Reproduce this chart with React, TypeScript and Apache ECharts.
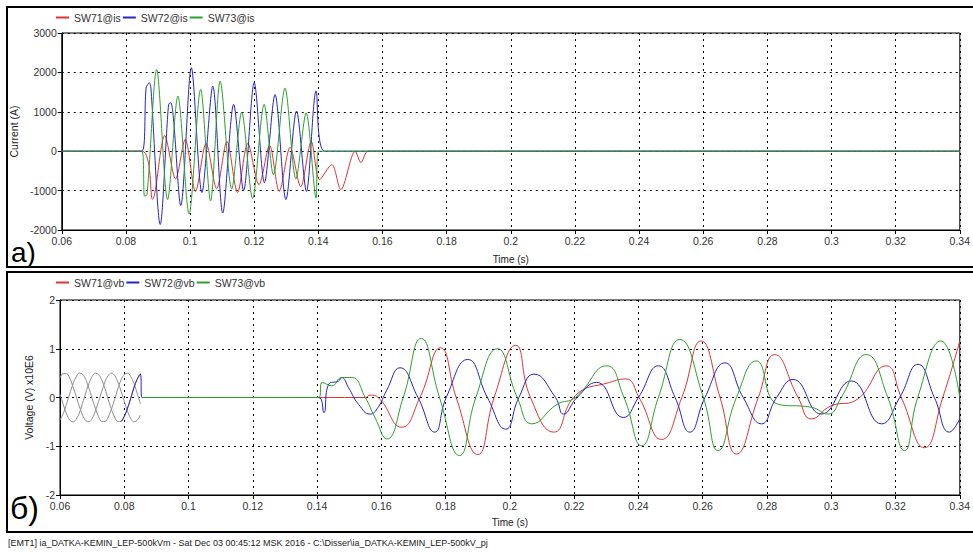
import React, { useEffect, useRef } from 'react';
import * as echarts from 'echarts';

// ---------- data ----------
const xMin = 0.06;
const xMax = 0.34;
const xStep = 0.02;

const currentNames = ['SW71@is', 'SW72@is', 'SW73@is'];
const voltageNames = ['SW71@vb', 'SW72@vb', 'SW73@vb'];

// top panel: currents (A), [time s, value]
const isRed: [number, number][] = [
  [0.06, 0], [0.085, 0], [0.0883, -1220], [0.0921, 400], [0.0955, -700], [0.0985, 300],
  [0.1017, -1020], [0.105, 200], [0.1083, -950], [0.1115, 250], [0.1148, -1050], [0.118, 200],
  [0.1215, -850], [0.1248, 150], [0.1278, -1020], [0.1312, 100], [0.1345, -900], [0.1378, 250],
  [0.1404, -720], [0.1442, -340], [0.147, -975], [0.1515, 0], [0.1533, -290], [0.1556, 0], [0.34, 0],
];
const isBlue: [number, number][] = [
  [0.06, 0], [0.085, 0], [0.0863, 1600], [0.0873, 1740], [0.0878, 1600], [0.0907, -1860],
  [0.0933, 1190], [0.094, 1230], [0.0971, -1380], [0.1004, 2120], [0.1037, -1050], [0.1071, 1650],
  [0.1102, -1570], [0.1136, 1190], [0.1167, -1000], [0.12, 1740], [0.1232, -800], [0.1265, 1440],
  [0.1299, -1230], [0.1332, 1020], [0.1363, -1020], [0.1393, 1530], [0.1419, 0], [0.34, 0],
];
const isGreen: [number, number][] = [
  [0.06, 0], [0.085, 0], [0.0858, -1140], [0.0866, -1100], [0.0896, 2070], [0.093, -1230],
  [0.0962, 1400], [0.0997, -1590], [0.1033, 1570], [0.1064, -1260], [0.1094, 1780], [0.113, -960],
  [0.1161, 990], [0.1195, -1200], [0.1231, 1190], [0.126, -600], [0.1296, 1600], [0.133, -700],
  [0.1362, 970], [0.1393, -1190], [0.14, 0], [0.34, 0],
];

// bottom panel: voltages (x10E6 V)
const vbRed: [number, number][] = [
  [0.0855, 0], [0.155, 0], [0.1565, 0.05], [0.159, 0], [0.1663, -0.61], [0.172, 0], [0.1784, 1.02],
  [0.1833, 0], [0.19, -1.17], [0.1951, 0], [0.2018, 1.07], [0.2064, 0], [0.2137, -0.71], [0.2205, 0.05],
  [0.231, 0.31], [0.2361, 0.38], [0.2402, 0], [0.2472, -0.86], [0.2535, 0], [0.2595, 1.16], [0.2654, 0],
  [0.2705, -1.16], [0.2773, 0], [0.2824, 0.88], [0.2897, 0], [0.2938, -0.44], [0.3, -0.17], [0.3073, -0.07],
  [0.3171, 0.65], [0.3218, 0], [0.329, -1.03], [0.3347, 0], [0.34, 1.16],
];
const vbBlue: [number, number][] = [
  [0.079, -0.49], [0.08, -0.39], [0.081, -0.22], [0.082, -0.02], [0.083, 0.2], [0.084, 0.37],
  [0.085, 0.48], [0.0855, 0], [0.1405, 0], [0.1421, -0.31], [0.1436, 0.27], [0.1467, 0.34],
  [0.1477, 0.41], [0.1498, 0.2], [0.1529, -0.14], [0.1565, -0.34], [0.159, -0.2], [0.1616, 0.14],
  [0.1658, 0.61], [0.1714, 0], [0.1766, -0.71], [0.1802, 0], [0.1869, 0.78], [0.193, 0], [0.1987, -0.65],
  [0.2028, 0], [0.2075, 0.48], [0.2142, 0], [0.2167, -0.34], [0.2209, 0], [0.227, 0.31], [0.2353, -0.41],
  [0.24, 0], [0.2462, 0.65], [0.2514, 0], [0.256, -0.71], [0.2607, 0], [0.2669, 0.71], [0.2726, 0],
  [0.2783, -0.54], [0.283, 0], [0.2881, 0.37], [0.2969, -0.34], [0.3062, 0.34], [0.3156, -0.54],
  [0.3213, 0], [0.327, 0.68], [0.3321, 0], [0.3368, -0.71], [0.34, -0.44],
];
const vbGreen: [number, number][] = [
  [0.0855, 0], [0.1405, 0], [0.1416, 0.31], [0.1446, 0.24], [0.1477, 0.41], [0.1508, 0.41], [0.155, 0],
  [0.158, -0.41], [0.1617, -0.85], [0.1668, 0], [0.1724, 1.21], [0.1781, 0], [0.1843, -1.19], [0.1894, 0],
  [0.1961, 1.0], [0.2023, 0], [0.2069, -0.54], [0.2147, -0.14], [0.2204, 0], [0.2301, 0.65], [0.2355, 0],
  [0.241, -0.99], [0.2462, 0], [0.2529, 1.19], [0.2602, 0], [0.2648, -1.09], [0.2705, 0], [0.2767, 0.75],
  [0.2835, -0.14], [0.2938, -0.2], [0.299, -0.34], [0.3031, 0], [0.3109, 0.88], [0.3176, 0], [0.3228, -1.09],
  [0.3269, 0], [0.3342, 1.16], [0.34, 0],
];

// grey pre-fault three-phase voltages (0.060 .. 0.085 s, 1 ms step)
const greyTimes = [
  0.06, 0.061, 0.062, 0.063, 0.064, 0.065, 0.066, 0.067, 0.068, 0.069, 0.07, 0.071, 0.072,
  0.073, 0.074, 0.075, 0.076, 0.077, 0.078, 0.079, 0.08, 0.081, 0.082, 0.083, 0.084, 0.085,
];
const greyA = [
  0.4, 0.49, 0.49, 0.4, 0.23, 0.03, -0.18, -0.36, -0.47, -0.5, -0.43, -0.28, -0.08,
  0.13, 0.32, 0.45, 0.5, 0.45, 0.32, 0.13, -0.08, -0.28, -0.43, -0.5, -0.47, -0.36,
];
const greyB = [
  -0.46, -0.33, -0.14, 0.07, 0.27, 0.42, 0.5, 0.48, 0.37, 0.19, -0.02, -0.22, -0.39,
  -0.49, -0.49, -0.4, -0.24, -0.04, 0.18, 0.36, 0.47, 0.5, 0.43, 0.29, 0.09, -0.13,
];
const greyC = [
  0.07, -0.14, -0.33, -0.46, -0.5, -0.45, -0.32, -0.12, 0.09, 0.29, 0.43, 0.5, 0.47,
  0.36, 0.18, -0.04, -0.24, -0.4, -0.49, -0.49, -0.39, -0.22, -0.02, 0.2, 0.37, 0.48,
];

const footer =
  '[EMT1] ia_DATKA-KEMIN_LEP-500kVm - Sat Dec 03 00:45:12 MSK 2016 - C:\\Disser\\ia_DATKA-KEMIN_LEP-500kV_pj';

// ---------- styles ----------
const RED = '#e03434';
const BLUE = '#2424c8';
const GREEN = '#2ca02c';
const GREY = '#8c8c8c';
const FONT = "'Liberation Sans', Arial, sans-serif";

export default function App() {
  const ref = useRef<HTMLDivElement>(null);

  useEffect(() => {
    if (!ref.current) return;
    const chart = echarts.init(ref.current, null, { renderer: 'svg' });

    const zip = (t: number[], v: number[]) => t.map((x, i) => [x, v[i]]);
    const fmtX = (v: number) => String(Math.round(v * 100) / 100);
    const fmtY = (v: number) => String(Math.round(v * 1000) / 1000);

    const gridDots = { show: true, lineStyle: { color: '#000', type: [2, 4], width: 1 } };

    const xAxisBase = (gridIndex: number) => ({
      type: 'value',
      gridIndex,
      min: xMin,
      max: xMax,
      interval: xStep,
      name: 'Time (s)',
      nameLocation: 'middle',
      nameGap: gridIndex === 0 ? 24 : 22,
      nameTextStyle: { fontFamily: FONT, fontSize: 10, color: '#222' },
      axisLine: { onZero: false, lineStyle: { color: '#000', width: 1 } },
      axisTick: { show: true, length: 4, lineStyle: { color: '#000' } },
      axisLabel: {
        formatter: fmtX,
        fontFamily: FONT,
        fontSize: 10.5,
        color: '#333',
        margin: 5,
        showMaxLabel: true,
      },
      splitLine: gridDots,
    });

    const yAxisBase = (gridIndex: number, min: number, max: number, interval: number, name: string, gap: number) => ({
      type: 'value',
      gridIndex,
      min,
      max,
      interval,
      name,
      nameLocation: 'middle',
      nameRotate: 90,
      nameGap: gap,
      nameTextStyle: { fontFamily: FONT, fontSize: 10.5, color: '#222' },
      axisLine: { show: true, onZero: false, lineStyle: { color: '#000' } },
      axisTick: { show: true, length: 4, lineStyle: { color: '#000' } },
      axisLabel: { formatter: fmtY, fontFamily: FONT, fontSize: 10.5, color: '#333', margin: 5 },
      splitLine: gridDots,
    });

    const lineSeries = (
      name: string,
      data: any[],
      color: string,
      idx: number,
      smooth: number,
      z: number
    ) => ({
      type: 'line',
      name,
      data,
      xAxisIndex: idx,
      yAxisIndex: idx,
      symbol: 'none',
      showSymbol: false,
      smooth,
      lineStyle: { color, width: 1 },
      itemStyle: { color },
      z,
    });

    const legendBase = (data: string[], top: number) => ({
      data,
      left: 56,
      top,
      icon: 'rect',
      itemWidth: 13,
      itemHeight: 2,
      itemGap: 2,
      padding: 0,
      textStyle: { fontFamily: FONT, fontSize: 10.5, color: '#333' },
      selectedMode: false,
    });

    const option: any = {
      animation: false,
      backgroundColor: '#fff',
      legend: [legendBase(currentNames, 12), legendBase(voltageNames, 277)],
      grid: [
        { left: 60, top: 33, width: 906, height: 197, show: true, borderColor: '#000', borderWidth: 1 },
        { left: 60, top: 300, width: 906, height: 195, show: true, borderColor: '#000', borderWidth: 1 },
      ],
      xAxis: [xAxisBase(0), xAxisBase(1)],
      yAxis: [
        yAxisBase(0, -2000, 3000, 1000, 'Current (A)', 34),
        yAxisBase(1, -2, 2, 1, 'Voltage (V) x10E6', 15),
      ],
      series: [
        lineSeries(currentNames[0], isRed, RED, 0, 0.3, 3),
        lineSeries(currentNames[1], isBlue, BLUE, 0, 0.3, 4),
        lineSeries(currentNames[2], isGreen, GREEN, 0, 0.3, 5),
        lineSeries('greyA', zip(greyTimes, greyA), GREY, 1, 0.4, 2),
        lineSeries('greyB', zip(greyTimes, greyB), GREY, 1, 0.4, 2),
        lineSeries('greyC', zip(greyTimes, greyC), GREY, 1, 0.4, 2),
        lineSeries(voltageNames[0], vbRed, RED, 1, 0.5, 3),
        lineSeries(voltageNames[1], vbBlue, BLUE, 1, 0.5, 4),
        lineSeries(voltageNames[2], vbGreen, GREEN, 1, 0.5, 5),
      ],
      graphic: [
        {
          type: 'rect',
          shape: { x: 7, y: 7, width: 990, height: 260 },
          style: { fill: 'none', stroke: '#000', lineWidth: 2 },
          silent: true,
        },
        {
          type: 'rect',
          shape: { x: 7, y: 272, width: 990, height: 260 },
          style: { fill: 'none', stroke: '#000', lineWidth: 2 },
          silent: true,
        },
        {
          type: 'text',
          left: 11,
          top: 238,
          style: { text: 'a)', font: `28px ${FONT}`, lineHeight: 20, fill: '#000' },
          silent: true,
        },
        {
          type: 'text',
          left: 10,
          top: 492,
          style: { text: 'б)', font: `32px ${FONT}`, lineHeight: 26, fill: '#000' },
          silent: true,
        },
        {
          type: 'text',
          left: 8,
          top: 538,
          style: { text: footer, font: `9px ${FONT}`, fill: '#222' },
          silent: true,
        },
      ],
    };

    chart.setOption(option);
    return () => chart.dispose();
  }, []);

  return (
    <div
      ref={ref}
      style={{ position: 'absolute', left: 0, top: 0, width: 973, height: 552, background: '#fff' }}
    />
  );
}
